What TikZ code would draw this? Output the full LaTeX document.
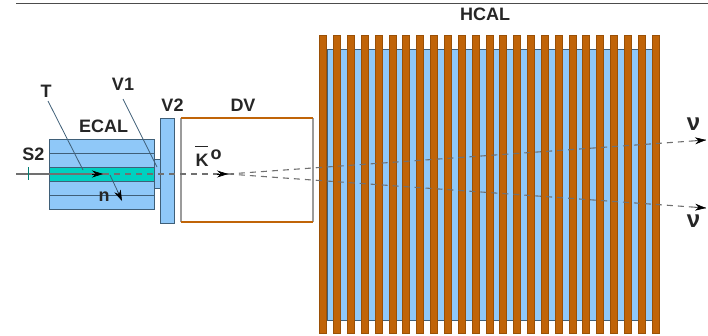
\documentclass[tikz,border=0pt]{standalone}
\usepackage{fontspec}
\setmainfont{Liberation Sans}
\usepackage{tikz}
\usetikzlibrary{arrows.meta}
\definecolor{detBlue}{HTML}{8FC8F8}
\definecolor{detEdge}{HTML}{3F5F78}
\definecolor{detTeal}{HTML}{00D0C0}
\definecolor{detBrown}{HTML}{C06408}
\definecolor{detGrey}{HTML}{707070}
\tikzset{
  lbl/.style={font=\fontsize{18}{18}\selectfont\bfseries,text=black!85,inner sep=0pt},
  nulbl/.style={font=\fontsize{24}{24}\selectfont\bfseries,text=black!85,inner sep=0pt},
  cell/.style={draw=detEdge,line width=0.9pt,fill=detBlue,inner sep=0pt},
  plate/.style={fill=detBrown,draw=detBrown!80!black,line width=0.4pt},
  track/.style={detGrey,line width=1.1pt,dash pattern=on 6pt off 5pt},
  tip/.style={-{Stealth[length=11pt,width=7pt]},black,line width=0.6pt},
  pointer/.style={detEdge,line width=0.8pt},
}
\begin{document}
\begin{tikzpicture}[x=1pt,y=-1pt]
\useasboundingbox (0,0) rectangle (708,335);
\coordinate (rulea) at (16,3.5);
\coordinate (ruleb) at (708,3.5);
\draw[black!70,line width=1.6pt] (rulea) -- (ruleb);
% HCAL
\node[cell,minimum width=325pt,minimum height=271pt] (hcal) at (489.5,184.5) {};
\foreach \i in {0,...,24}
  \draw[plate] ({319.5+13.85*\i},35) rectangle ({326.5+13.85*\i},333);
\node[lbl] (hcaltxt) at (485,14.5) {HCAL};
% ECAL
\foreach \y in {139,153,167,181,195}
  \draw[cell] (49,\y) rectangle (154,\y+14);
\node[cell,fill=detTeal,minimum width=105pt,minimum height=14pt] (tgt) at (101.5,174) {};
\node[cell,minimum width=7pt,minimum height=29pt] (vone) at (157.5,173.5) {};
\node[cell,minimum width=14.5pt,minimum height=105pt] (vtwo) at (167.25,170.5) {};
% DV
\coordinate (dva) at (313,118);
\coordinate (dvb) at (181,118);
\coordinate (dvc) at (181,222);
\coordinate (dvd) at (313,222);
\draw[detGrey!70,line width=1.2pt] (dvb) -- (dvc);
\draw[detGrey!70,line width=1.2pt] (dva) -- (dvd);
\draw[detBrown,line width=1.8pt] (dva) -- (dvb);
\draw[detBrown,line width=1.8pt] (dvc) -- (dvd);
% beam and tracks
\coordinate (beamin) at (16,174);
\coordinate (beamtip) at (92,174);
\coordinate (beamend) at (103,174);
\coordinate (decay) at (228,174);
\coordinate (kfrom) at (217,174);
\coordinate (nuup) at (706,140);
\coordinate (nudown) at (706,208);
\coordinate (nuupb) at (695,140.8);
\coordinate (nudownb) at (695,207.2);
\draw[detGrey,line width=1.1pt] (beamin) -- (beamend);
\draw[track] (beamend) -- (decay);
\draw[tip] (beamtip) -- (beamend);
\draw[tip] (kfrom) -- (decay);
\draw[track] (decay) -- (nuup);
\draw[track] (decay) -- (nudown);
\draw[tip] (nuupb) -- (nuup);
\draw[tip] (nudownb) -- (nudown);
\coordinate (tickup) at (28.5,167);
\coordinate (tickdn) at (28.5,180);
\draw[detTeal!60!black,line width=1.5pt] (tickup) -- (tickdn);
% neutron
\coordinate (nstart) at (110,175);
\coordinate (nmid) at (117.5,191);
\coordinate (nend) at (122,201);
\draw[pointer] (nstart) -- (nmid);
\draw[tip] (nmid) -- (nend);
% labels
\node[lbl] (stwotxt) at (33.5,154.5) {S2};
\node[lbl] (ttxt) at (46,91) {T};
\node[lbl] (ecaltxt) at (103.5,126) {ECAL};
\node[lbl] (vonetxt) at (123,84.5) {V1};
\node[lbl] (vtwotxt) at (172.5,105) {V2};
\node[lbl] (dvtxt) at (243,105) {DV};
\node[lbl] (ntxt) at (104,197) {n};
\node[lbl] (ktxt) at (202,160) {K};
\node[lbl] (kotxt) at (216,154.5) {o};
\coordinate (kbara) at (195,146);
\coordinate (kbarb) at (208,146);
\draw[black!85,line width=1pt] (kbara) -- (kbarb);
\node[nulbl] (nuone) at (693.5,124) {ν};
\node[nulbl] (nutwo) at (693.5,221) {ν};
\coordinate (tfrom) at (48,101);
\coordinate (tto) at (83,170);
\coordinate (vfrom) at (123,99);
\coordinate (vto) at (157,167);
\draw[pointer] (tfrom) -- (tto);
\draw[pointer] (vfrom) -- (vto);
\end{tikzpicture}
\end{document}
